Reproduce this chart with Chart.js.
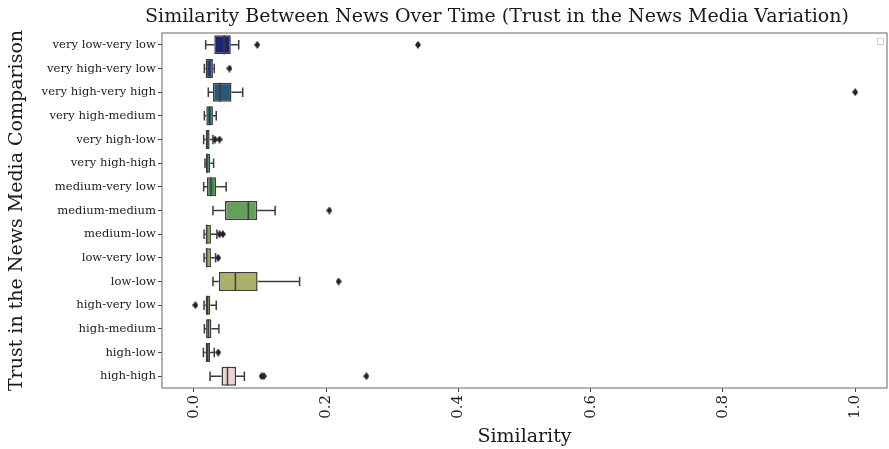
<!DOCTYPE html>
<html>
<head>
<meta charset="utf-8">
<script src="https://cdn.jsdelivr.net/npm/chart.js@4/dist/chart.umd.min.js"></script>
<style>
  html, body { margin: 0; padding: 0; background: #ffffff; }
  #wrap { width: 889px; height: 449px; position: relative; }
</style>
</head>
<body>
<div id="wrap"><canvas id="chart"></canvas></div>
<script>
// Trust-pair categories, top to bottom
const categories = [
  'very low-very low', 'very high-very low', 'very high-very high', 'very high-medium',
  'very high-low', 'very high-high', 'medium-very low', 'medium-medium',
  'medium-low', 'low-very low', 'low-low', 'high-very low',
  'high-medium', 'high-low', 'high-high'
];

// Box-plot statistics per category
const whiskerLow  = [0.018, 0.016, 0.022, 0.016, 0.015, 0.017, 0.015, 0.029, 0.0156, 0.0156, 0.029, 0.0156, 0.016, 0.0146, 0.0246];
const quartile1   = [0.031, 0.018, 0.029, 0.019, 0.018, 0.0185, 0.020, 0.047, 0.018, 0.018, 0.038, 0.018, 0.0186, 0.018, 0.042];
const medians     = [0.046, 0.024, 0.040, 0.024, 0.020, 0.020, 0.026, 0.0825, 0.0196, 0.0196, 0.063, 0.021, 0.022, 0.021, 0.051];
const quartile3   = [0.056, 0.029, 0.057, 0.029, 0.024, 0.025, 0.034, 0.096, 0.026, 0.026, 0.0965, 0.025, 0.0267, 0.0246, 0.064];
const whiskerHigh = [0.068, 0.031, 0.074, 0.034, 0.029, 0.030, 0.049, 0.123, 0.035, 0.033, 0.160, 0.034, 0.038, 0.031, 0.0765];
const outliers = [
  [0.096, 0.339], [0.054], [1.0], [], [0.032, 0.039], [], [], [0.205],
  [0.039, 0.044], [0.037], [0.219], [0.0025], [], [0.037], [0.1026, 0.106, 0.261]
];

// Axis ticks
const xTicks = [0.0, 0.2, 0.4, 0.6, 0.8, 1.0];

// Box fill colours (earth-tone ramp)
const boxColors = [
  '#1c2572', '#1f3d85', '#27597a', '#2a6b70', '#2d7866', '#2f8258', '#3f8f4a', '#64a05a',
  '#7fa359', '#98a95e', '#aab168', '#b9a962', '#c4a476', '#7f6a62', '#ebd5d2'
];

const FONT = 'DejaVu Serif';
const TEXT = '#1a1a1a';
const EDGE = '#3c3c3c';

// Thin diamond marker for fliers
function diamondMarker() {
  const c = document.createElement('canvas');
  c.width = 6; c.height = 8;
  const g = c.getContext('2d');
  g.fillStyle = '#222';
  g.beginPath();
  g.moveTo(3, 0); g.lineTo(6, 4); g.lineTo(3, 8); g.lineTo(0, 4); g.closePath();
  g.fill();
  return c;
}

const flierPoints = [];
outliers.forEach((vals, i) => vals.forEach(v => flierPoints.push({ x: v, y: categories[i] })));

// Whiskers, caps and median lines drawn on the chart's own scales
const whiskerPlugin = {
  id: 'whiskers',
  afterDatasetsDraw(chart) {
    const { ctx, scales: { x, y } } = chart;
    const bars = chart.getDatasetMeta(0).data;
    ctx.save();
    ctx.strokeStyle = EDGE;
    ctx.lineWidth = 1.5;
    categories.forEach((c, i) => {
      const yc = y.getPixelForValue(i);
      const half = bars[i] ? bars[i].height / 2 : 9;
      const cap = half / 2;
      const xl = x.getPixelForValue(whiskerLow[i]);
      const x1 = x.getPixelForValue(quartile1[i]);
      const xm = x.getPixelForValue(medians[i]);
      const x3 = x.getPixelForValue(quartile3[i]);
      const xh = x.getPixelForValue(whiskerHigh[i]);
      ctx.beginPath();
      ctx.moveTo(xl, yc); ctx.lineTo(x1, yc);
      ctx.moveTo(x3, yc); ctx.lineTo(xh, yc);
      ctx.moveTo(xl, yc - cap); ctx.lineTo(xl, yc + cap);
      ctx.moveTo(xh, yc - cap); ctx.lineTo(xh, yc + cap);
      ctx.moveTo(xm, yc - half); ctx.lineTo(xm, yc + half);
      ctx.stroke();
    });
    ctx.restore();
  }
};

// Axes frame, empty legend box and chart title
const framePlugin = {
  id: 'frame',
  afterDraw(chart) {
    const { ctx, chartArea: a } = chart;
    ctx.save();
    ctx.strokeStyle = '#808080';
    ctx.lineWidth = 1.2;
    ctx.strokeRect(a.left, a.top, a.right - a.left, a.bottom - a.top);
    ctx.strokeStyle = '#d0d0d0';
    ctx.lineWidth = 1;
    ctx.strokeRect(a.right - 9.5, a.top + 5.5, 6, 6);
    ctx.fillStyle = TEXT;
    ctx.font = '19px "' + FONT + '"';
    ctx.textAlign = 'center';
    ctx.textBaseline = 'middle';
    ctx.fillText('Similarity Between News Over Time (Trust in the News Media Variation)', 497, 17);
    ctx.restore();
  }
};

new Chart(document.getElementById('chart'), {
  type: 'bar',
  data: {
    labels: categories,
    datasets: [
      {
        type: 'bar',
        data: categories.map((c, i) => [quartile1[i], quartile3[i]]),
        backgroundColor: boxColors,
        borderColor: EDGE,
        borderWidth: 1.5,
        borderSkipped: false,
        categoryPercentage: 0.8,
        barPercentage: 1.0,
        order: 2
      },
      {
        type: 'scatter',
        data: flierPoints,
        pointStyle: diamondMarker(),
        radius: 3,
        hoverRadius: 3,
        order: 1
      }
    ]
  },
  options: {
    indexAxis: 'y',
    responsive: true,
    maintainAspectRatio: false,
    animation: false,
    layout: { autoPadding: false, padding: { top: 33, right: 2, left: 0, bottom: 0 } },
    plugins: {
      legend: { display: false },
      title: { display: false },
      tooltip: { enabled: false }
    },
    scales: {
      x: {
        type: 'linear',
        min: -0.048,
        max: 1.048,
        afterBuildTicks(scale) { scale.ticks = xTicks.map(v => ({ value: v })); },
        afterFit(scale) {
          scale.height = 61;
          scale.paddingLeft = 0;
          scale.paddingRight = 0;
        },
        ticks: {
          callback: v => Number(v).toFixed(1),
          minRotation: 90,
          maxRotation: 90,
          padding: 3,
          color: TEXT,
          font: { family: FONT, size: 15 }
        },
        grid: { display: true, drawOnChartArea: false, tickLength: 4, color: '#444' },
        border: { display: false },
        title: {
          display: true,
          text: 'Similarity',
          color: TEXT,
          font: { family: FONT, size: 19 },
          padding: { top: 0, bottom: 1 }
        }
      },
      y: {
        type: 'category',
        offset: true,
        afterFit(scale) { scale.width = 162; },
        ticks: {
          padding: 2,
          color: TEXT,
          font: { family: FONT, size: 11.6 }
        },
        grid: { display: true, drawOnChartArea: false, tickLength: 4, color: '#444', offset: false },
        border: { display: false },
        title: {
          display: true,
          text: 'Trust in the News Media Comparison',
          color: TEXT,
          font: { family: FONT, size: 19 },
          padding: { top: 6, bottom: 0 }
        }
      }
    }
  },
  plugins: [whiskerPlugin, framePlugin]
});
</script>
</body>
</html>
